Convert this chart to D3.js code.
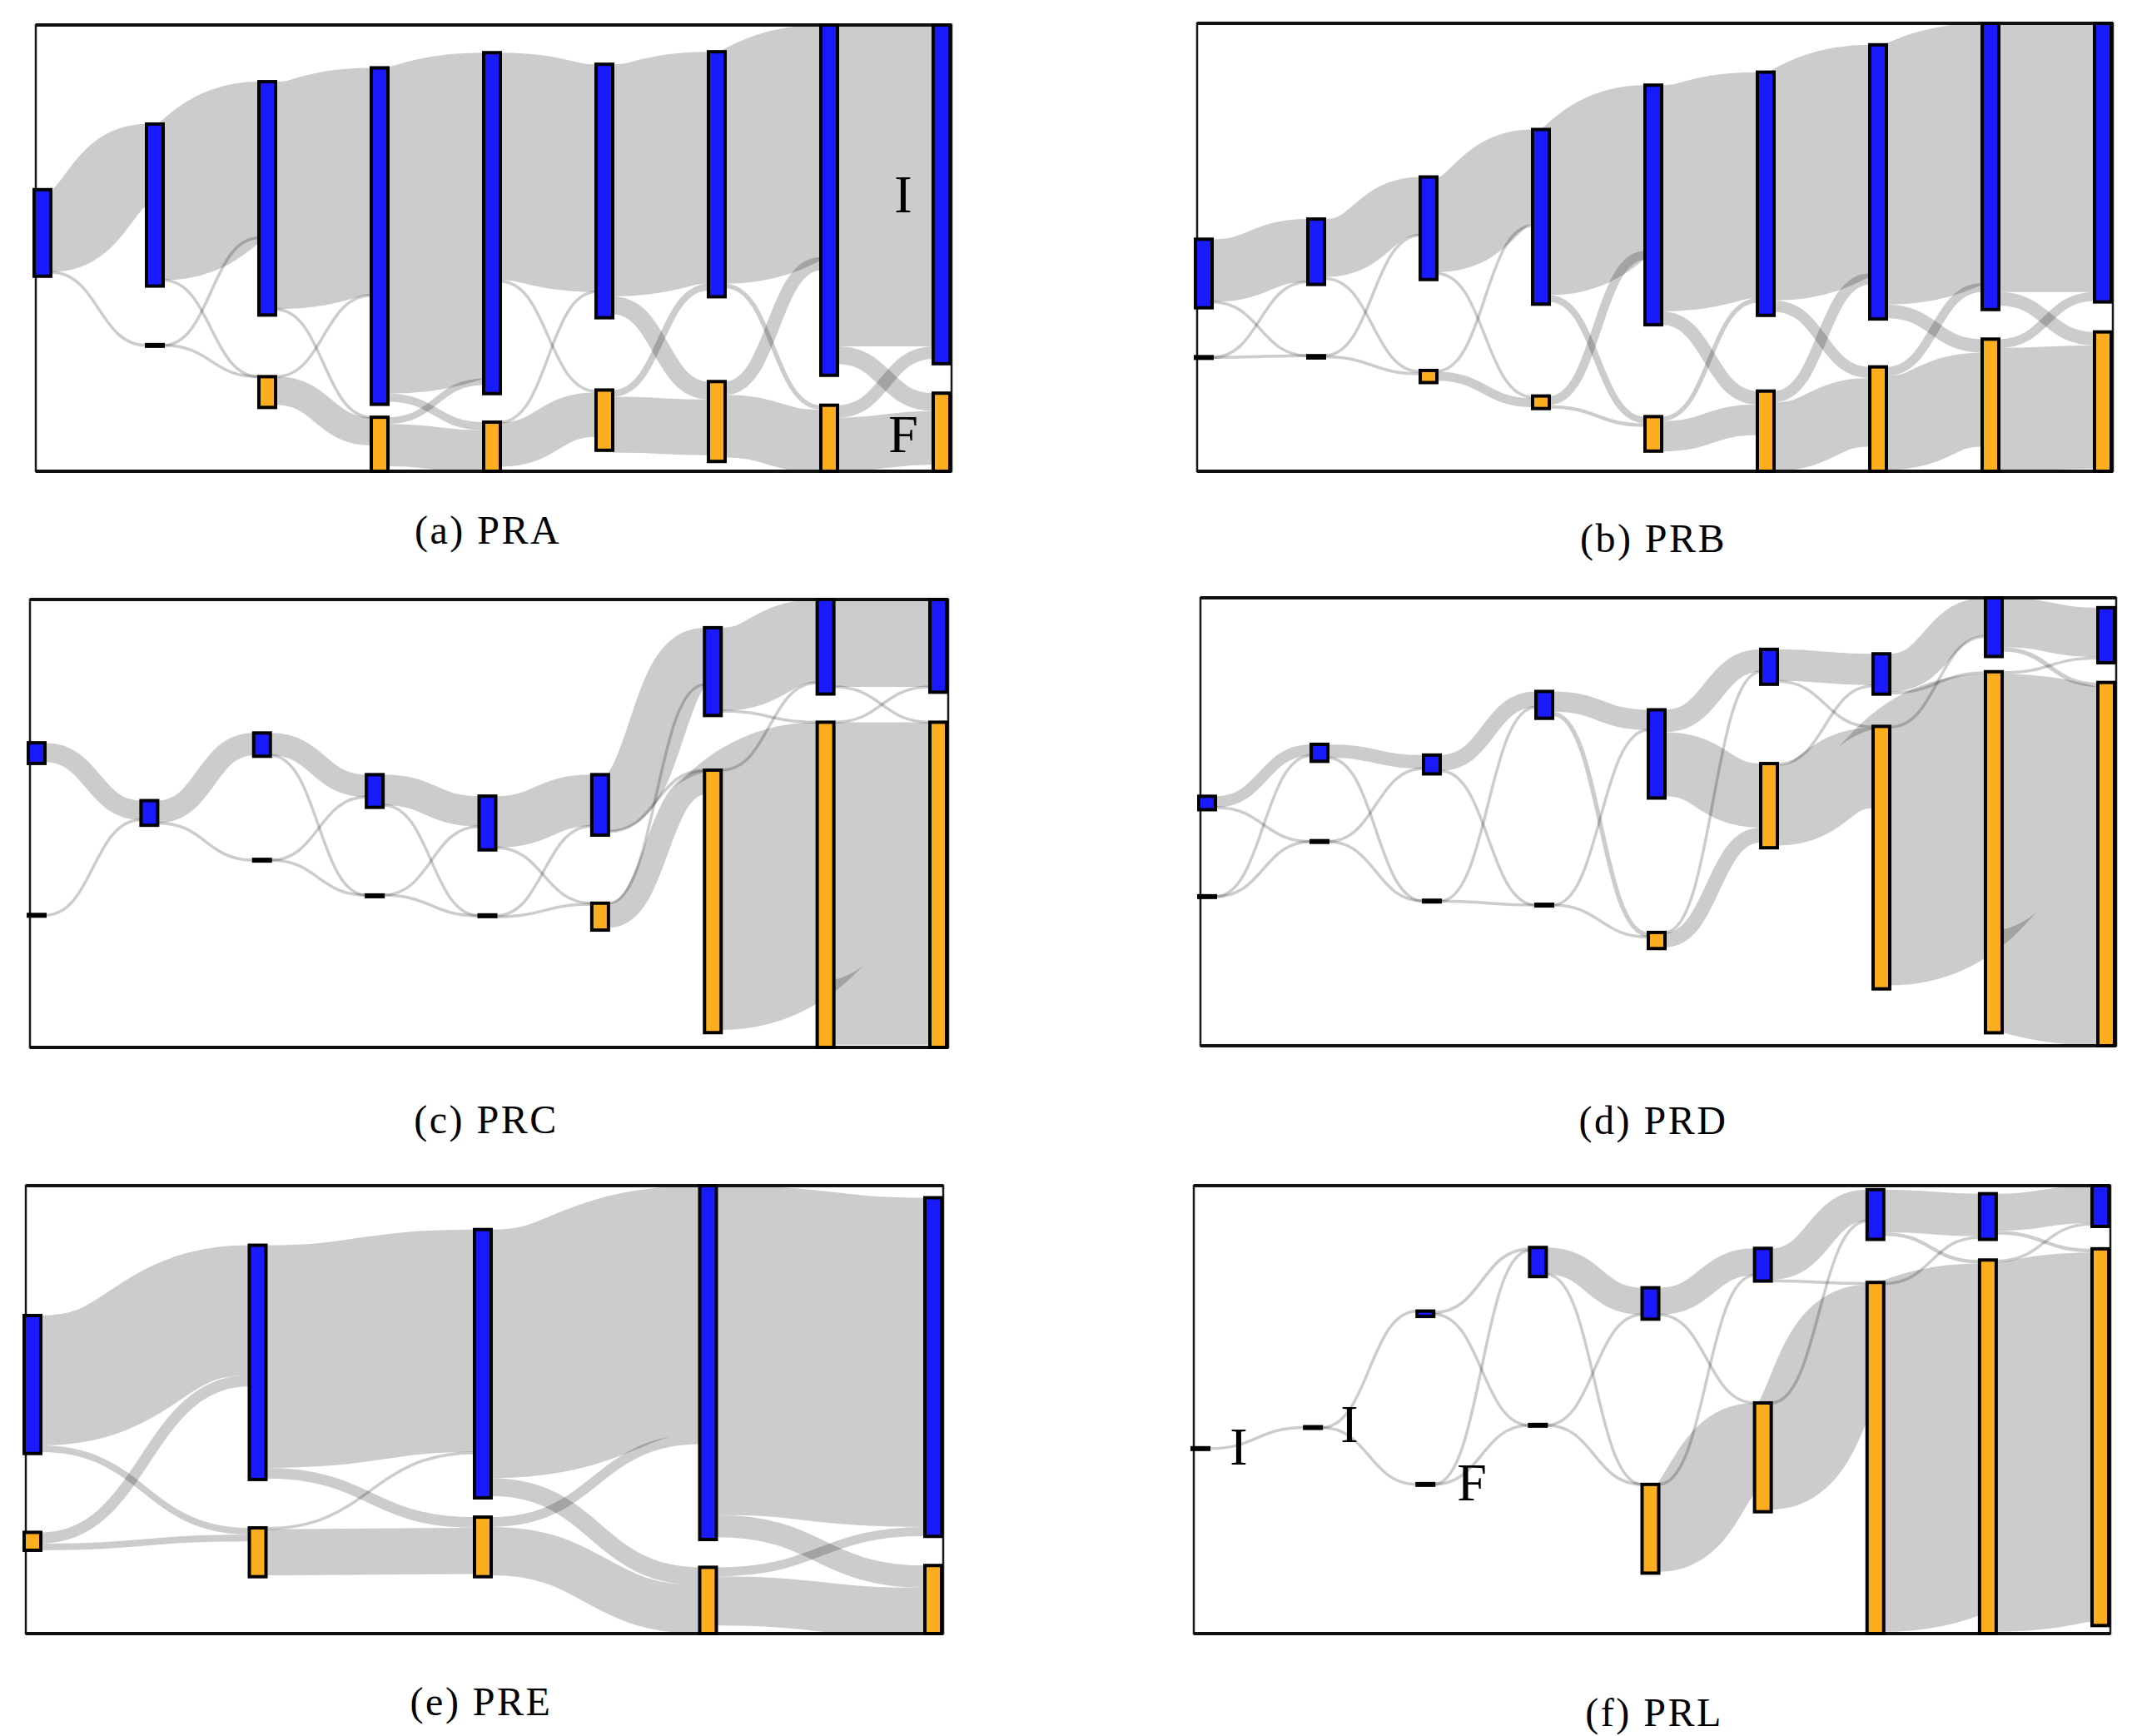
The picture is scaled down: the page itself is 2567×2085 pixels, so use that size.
<!DOCTYPE html>
<html>
<head>
<meta charset="utf-8">
<script src="https://cdn.jsdelivr.net/npm/d3@7"></script>
<style>
  body { margin: 0; background: #fff; }
  svg { display: block; }
</style>
</head>
<body>
<svg id="fig" width="2567" height="2085"></svg>
<script>
// 値はすべて「パネルの高さ = 100」の単位
// I: 上側のノード（青）, F: 下側のノード（橙）
// *_Iy / *_Fy : ノード上端の位置, *_I / *_F : ノードの大きさ (null = ノードなし)
// *_II, *_IF, *_FI, *_FF : 各ステップ間のリンクの幅 (0 = 細線, null = リンクなし)

// (a) PRA
const PRA_Iy = [36.9, 22.2, 12.7, 9.6, 6.2, 8.8, 6.0, 0, 0];
const PRA_I  = [19.4, 36.3, 52.3, 75.4, 76.4, 56.8, 54.9, 78.5, 75.9];
const PRA_Fy = [null, 71.8, 78.8, 87.9, 89.0, 81.8, 79.9, 85.2, 82.5];
const PRA_F  = [null, 0, 6.9, 12.1, 11.0, 13.5, 17.9, 14.8, 17.5];
const PRA_II = [18.5, 35, 51, 73, 51, 52, 52, 72];
const PRA_IF = [0, 0, 0, 1.8, 0.5, 4, 1, 4];
const PRA_FI = [null, 0, 0, 1.5, 0, 1.5, 3, 2.8];
const PRA_FF = [null, 0, 6.3, 9.5, 10, 12.5, 14, 12];

// (b) PRB
const PRB_Iy = [48.2, 43.7, 34.3, 23.7, 13.8, 10.9, 4.8, 0, 0];
const PRB_I  = [15.3, 14.6, 22.9, 39.0, 53.5, 54.3, 61.2, 63.9, 62.2];
const PRB_Fy = [74.6, 74.2, 77.5, 83.2, 87.8, 82.1, 76.7, 70.5, 68.9];
const PRB_F  = [0, 0.5, 2.7, 2.8, 7.7, 17.9, 23.3, 29.5, 31.1];
const PRB_II = [14, 13, 21.3, 37, 50.5, 51, 58, 60];
const PRB_IF = [0, 0.5, 0.5, 1.5, 3, 2.5, 3, 3];
const PRB_FI = [0, 0, 0.3, 2, 1, 2.5, 2, 2];
const PRB_FF = [0, 0.5, 2, 0.8, 6.8, 15.3, 21, 27.5];

// (c) PRC
const PRC_Iy = [32.0, 44.9, 29.8, 39.1, 43.9, 39.1, 6.3, 0, 0];
const PRC_I  = [4.6, 5.5, 5.2, 7.3, 12.0, 13.5, 19.6, 21.1, 20.7];
const PRC_Fy = [70.5, null, 58.2, 66.0, 70.6, 67.8, 38.1, 27.4, 27.4];
const PRC_F  = [0, null, 0, 0.3, 0, 6.0, 58.6, 72.6, 72.6];
const PRC_II = [4.3, 5, 5, 6.8, 11.5, 12.7, 18.6, 19.5];
const PRC_IF = [null, 0, 0, 0, 0, 0, 0, 0];
const PRC_FI = [0, null, 0, 0, 0, 0, 0, 0];
const PRC_FF = [null, null, 0, 0, 0.5, 5.5, 58, 72];

// (d) PRD
const PRD_Iy = [44.3, 32.7, 35.1, 20.9, 25.0, 11.5, 12.5, 0, 2.2];
const PRD_I  = [3.0, 3.8, 4.2, 6.0, 19.7, 7.8, 9.0, 13.1, 12.3];
const PRD_Fy = [66.7, 54.4, 67.7, 68.6, 74.7, 37.0, 28.7, 16.5, 18.9];
const PRD_F  = [0, 0, 0, 0, 3.6, 18.8, 58.6, 80.6, 81.1];
const PRD_II = [2.5, 3, 3.5, 4.5, 5, 7, 8.5, 11];
const PRD_IF = [0, 0, 0, 1, 14.3, 0.3, 0.5, 1];
const PRD_FI = [0, 0, 0, 0, 0, 0.3, 0.3, 0.5];
const PRD_FF = [0, 0, 0, 0, 3.3, 18, 57.5, 80];

// (e) PRE
const PRE_Iy = [29.0, 13.3, 9.8, 0, 2.7];
const PRE_I  = [30.8, 52.3, 59.9, 79.0, 75.6];
const PRE_Fy = [77.4, 76.4, 74.0, 85.2, 84.8];
const PRE_F  = [4.0, 10.9, 13.3, 14.8, 15.2];
const PRE_II = [29, 49.7, 55.5, 73.5];
const PRE_IF = [1.5, 2.4, 4, 5];
const PRE_FI = [2.5, 0.3, 2.2, 2];
const PRE_FF = [1.5, 10.3, 10.8, 11];

// (f) PRL
const PRL_Iy = [58.7, 54.0, 28.0, 13.8, 22.8, 14.0, 0.9, 1.8, 0];
const PRL_I  = [0, 0, 1.2, 6.5, 7.0, 7.3, 11.1, 10.2, 9.1];
const PRL_Fy = [null, null, 66.7, 53.5, 66.7, 48.5, 21.6, 16.6, 14.1];
const PRL_F  = [null, null, 0, 0, 19.8, 24.3, 78.4, 83.4, 84.1];
const PRL_II = [0, 0, 0.7, 6, 6, 7, 9.5, 8.3];
const PRL_IF = [null, 0, 0, 0, 0, 0.5, 0.8, 0.8];
const PRL_FI = [null, null, 0, 0, 0, 0, 0.5, 0.5];
const PRL_FF = [null, null, 0, 0, 19.5, 23.8, 77.5, 82.5];

// - - - - 設定 - - - -
const NODE_W = 20;       // ノードの横幅
const MIN_W = 3.5;       // 細いリンクの最小幅
const MIN_H = 2;         // 小さいノードの最小高さ
const COL_I = '#1a1aff';
const COL_F = '#fcae1e';
const SERIF = '"Liberation Serif", "DejaVu Serif", serif';
// - - - - - - - - - -

const panels = [
  {cap: '(a) PRA', I: PRA_I, Iy: PRA_Iy, F: PRA_F, Fy: PRA_Fy, II: PRA_II, IF: PRA_IF, FI: PRA_FI, FF: PRA_FF,
   box: [43, 30, 1100, 536], capPos: [586, 653],
   labels: [['I', 1085, 255], ['F', 1085, 543]]},
  {cap: '(b) PRB', I: PRB_I, Iy: PRB_Iy, F: PRB_F, Fy: PRB_Fy, II: PRB_II, IF: PRB_IF, FI: PRB_FI, FF: PRB_FF,
   box: [1438, 28, 1100, 538], capPos: [1986, 663], labels: []},
  {cap: '(c) PRC', I: PRC_I, Iy: PRC_Iy, F: PRC_F, Fy: PRC_Fy, II: PRC_II, IF: PRC_IF, FI: PRC_FI, FF: PRC_FF,
   box: [36, 720, 1103, 538], capPos: [584, 1361], labels: []},
  {cap: '(d) PRD', I: PRD_I, Iy: PRD_Iy, F: PRD_F, Fy: PRD_Fy, II: PRD_II, IF: PRD_IF, FI: PRD_FI, FF: PRD_FF,
   box: [1442, 718, 1100, 538], capPos: [1986, 1362], labels: []},
  {cap: '(e) PRE', I: PRE_I, Iy: PRE_Iy, F: PRE_F, Fy: PRE_Fy, II: PRE_II, IF: PRE_IF, FI: PRE_FI, FF: PRE_FF,
   box: [31, 1424, 1102, 538], capPos: [578, 2060], labels: []},
  {cap: '(f) PRL', I: PRL_I, Iy: PRL_Iy, F: PRL_F, Fy: PRL_Fy, II: PRL_II, IF: PRL_IF, FI: PRL_FI, FF: PRL_FF,
   box: [1434, 1424, 1101, 538], capPos: [1987, 2073],
   labels: [['I', 1488, 1759], ['I', 1621, 1732], ['F', 1768, 1802]]}
];

const svg = d3.select('#fig');
svg.append('rect').attr('width', 2567).attr('height', 2085).attr('fill', '#fff');
const defs = svg.append('defs');

panels.forEach((p, pi) => drawPanel(p, pi));

function drawPanel(p, pi) {
  const [fx, fy, fw, fh] = p.box;
  const n = p.I.length;
  const x = d3.scalePoint().domain(d3.range(n)).range([fx - 2, fx + fw - NODE_W - 2]);
  const y = d3.scaleLinear().domain([0, 100]).range([fy, fy + fh]);
  const k = fh / 100;
  const g = svg.append('g');

  defs.append('clipPath').attr('id', 'clip' + pi)
    .append('rect').attr('x', fx).attr('y', fy).attr('width', fw).attr('height', fh);

  // リンクを集める（中心線の y を値の単位で）
  const links = [];
  const add = (t, s, tt, w) => links.push({s: [x(t) + NODE_W, y(s + w / 2)], t: [x(t + 1), y(tt + w / 2)], w});
  for (let t = 0; t < n - 1; t++) {
    const hasF0 = p.F[t] != null, hasF1 = p.F[t + 1] != null;
    add(t, p.Iy[t], p.Iy[t + 1], p.II[t]);
    if (hasF1) add(t, p.Iy[t] + p.II[t], p.Fy[t + 1], p.IF[t]);
    if (hasF0) add(t, p.Fy[t], p.Iy[t + 1] + p.II[t], p.FI[t]);
    if (hasF0 && hasF1) add(t, p.Fy[t] + p.FI[t], p.Fy[t + 1] + p.IF[t], p.FF[t]);
  }

  const link = d3.linkHorizontal().source(d => d.s).target(d => d.t);
  g.append('g').attr('clip-path', `url(#clip${pi})`)
    .selectAll('path').data(links).join('path')
    .attr('d', link)
    .attr('fill', 'none')
    .attr('stroke', '#000')
    .attr('stroke-opacity', 0.2)
    .attr('stroke-width', d => Math.max(d.w * k, MIN_W));

  // 枠
  g.append('rect')
    .attr('x', fx).attr('y', fy).attr('width', fw).attr('height', fh)
    .attr('fill', 'none').attr('stroke', '#1a1a1a').attr('stroke-width', 2.5);
  g.append('g').selectAll('line').data([fy, fy + fh]).join('line')
    .attr('x1', fx).attr('x2', fx + fw).attr('y1', d => d).attr('y2', d => d)
    .attr('stroke', '#111').attr('stroke-width', 4);

  // ノード
  const nodeY = (top, v) => v * k < MIN_H ? y(top) + v * k / 2 - MIN_H / 2 : y(top);
  const nodeH = v => Math.max(v * k, MIN_H);
  const nodes = [];
  for (let i = 0; i < n; i++) {
    nodes.push({i, top: p.Iy[i], v: p.I[i], c: COL_I});
    if (p.F[i] != null) nodes.push({i, top: p.Fy[i], v: p.F[i], c: COL_F});
  }
  g.append('g').selectAll('rect').data(nodes).join('rect')
    .attr('x', d => x(d.i))
    .attr('y', d => nodeY(d.top, d.v))
    .attr('width', NODE_W)
    .attr('height', d => nodeH(d.v))
    .attr('fill', d => d.c)
    .attr('stroke', '#000')
    .attr('stroke-width', 4);

  // ラベル
  g.append('g').selectAll('text').data(p.labels).join('text')
    .attr('x', d => d[1]).attr('y', d => d[2])
    .attr('text-anchor', 'middle')
    .style('font-family', SERIF).style('font-size', '64px')
    .text(d => d[0]);

  // キャプション
  g.append('text')
    .attr('x', p.capPos[0]).attr('y', p.capPos[1])
    .attr('text-anchor', 'middle')
    .style('font-family', SERIF).style('font-size', '48px').style('letter-spacing', '2.5px')
    .text(p.cap);
}
</script>
</body>
</html>
